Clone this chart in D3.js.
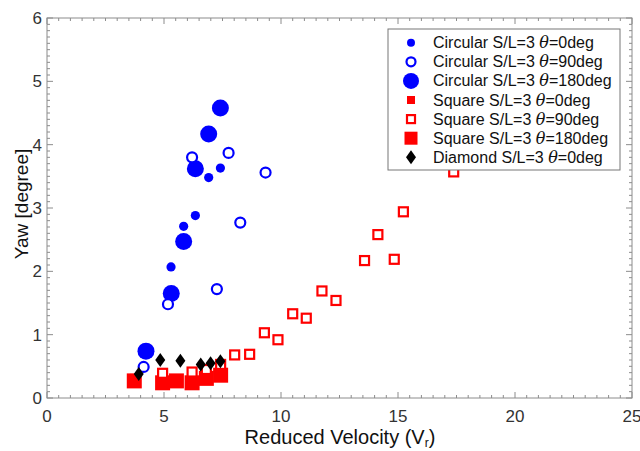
<!DOCTYPE html>
<html>
<head>
<meta charset="utf-8">
<script src="https://cdn.jsdelivr.net/npm/d3@7"></script>
<style>
body { margin: 0; background: #fff; }
svg text { font-family: "Liberation Sans", Arial, sans-serif; }
</style>
</head>
<body>
<div id="chart"></div>
<script>
// data: [reduced velocity, yaw]
var circ0 = [[5.30,2.07],[5.84,2.71],[6.34,2.88],[6.91,3.48],[7.41,3.63]];
var circ90 = [[4.13,0.49],[5.17,1.48],[6.20,3.80],[7.26,1.72],[7.76,3.87],[8.26,2.77],[9.34,3.56]];
var circ180 = [[4.23,0.74],[5.31,1.65],[5.84,2.47],[6.34,3.62],[6.91,4.17],[7.41,4.58]];
var sq0 = [[3.73,0.31],[4.94,0.27],[5.53,0.29],[6.20,0.27],[6.81,0.33],[7.42,0.38]];
var sq90 = [[4.94,0.39],[6.20,0.41],[6.81,0.45],[7.42,0.53],[8.02,0.68],[8.66,0.69],[9.29,1.03],[9.87,0.92],
            [10.50,1.33],[11.08,1.26],[11.75,1.69],[12.35,1.54],[13.57,2.17],[14.14,2.58],[14.84,2.19],[15.23,2.94],[17.38,3.57]];
var sq180 = [[3.73,0.27],[4.94,0.24],[5.53,0.27],[6.20,0.24],[6.81,0.31],[7.42,0.36]];
var diam0 = [[3.92,0.38],[4.84,0.60],[5.70,0.59],[6.57,0.53],[6.99,0.55],[7.41,0.58]];

var xTicks = [0,5,10,15,20,25];
var yTicks = [0,1,2,3,4,5,6];

var width = 640, height = 451;
var margin = {left: 47, right: 8, top: 18, bottom: 53};

var svg = d3.select("#chart").append("svg")
    .attr("width", width)
    .attr("height", height);

var x = d3.scaleLinear().domain([0,25]).range([margin.left, width-margin.right]);
var y = d3.scaleLinear().domain([0,6]).range([height-margin.bottom, margin.top]);

var axisCol = "#8c8c8c";

// frame
svg.append("rect")
    .attr("x", x(0)).attr("y", y(6))
    .attr("width", x(25)-x(0)).attr("height", y(0)-y(6))
    .attr("fill", "none").attr("stroke", axisCol).attr("stroke-width", 1);

// ticks, inward, mirrored on all 4 sides
var xMinor = d3.range(0, 25.01, 0.5);
var yMinor = d3.range(0, 6.001, 0.1);
var tg = svg.append("g").attr("stroke", axisCol).attr("stroke-width", 1);
xMinor.forEach(function(v){
    var major = Math.abs(v/5 - Math.round(v/5)) < 1e-6;
    var len = major ? 6 : 3;
    tg.append("line").attr("x1", x(v)).attr("x2", x(v)).attr("y1", y(0)).attr("y2", y(0)-len);
    tg.append("line").attr("x1", x(v)).attr("x2", x(v)).attr("y1", y(6)).attr("y2", y(6)+len);
});
yMinor.forEach(function(v){
    var major = Math.abs(v - Math.round(v)) < 1e-6;
    var len = major ? 6 : 3;
    tg.append("line").attr("y1", y(v)).attr("y2", y(v)).attr("x1", x(0)).attr("x2", x(0)+len);
    tg.append("line").attr("y1", y(v)).attr("y2", y(v)).attr("x1", x(25)).attr("x2", x(25)-len);
});

// tick labels
svg.selectAll(".xt").data(xTicks).enter().append("text")
    .attr("x", function(d){ return x(d); })
    .attr("y", y(0) + 24)
    .attr("text-anchor", "middle")
    .attr("font-size", 17)
    .attr("fill", "#333")
    .text(function(d){ return d; });
svg.selectAll(".yt").data(yTicks).enter().append("text")
    .attr("x", x(0) - 5)
    .attr("y", function(d){ return y(d) + 6; })
    .attr("text-anchor", "end")
    .attr("font-size", 17)
    .attr("fill", "#333")
    .text(function(d){ return d; });

// axis titles
var xl = svg.append("text")
    .attr("x", 340).attr("y", 444)
    .attr("text-anchor", "middle")
    .attr("font-size", 20)
    .attr("fill", "#111")
    .text("Reduced Velocity (V");
xl.append("tspan").attr("font-size", 12).attr("dy", 3).text("r");
xl.append("tspan").attr("dy", -3).text(")");

svg.append("text")
    .attr("transform", "translate(28," + (y(3) - 4) + ") rotate(-90)")
    .attr("text-anchor", "middle")
    .attr("font-size", 19)
    .attr("fill", "#111")
    .text("Yaw [degree]");

// marker styles
var blue = "#0000ff", red = "#ff0000";
var series = [
    {data: sq0, shape: "square", size: 9, fill: red, stroke: "none", label: "Square S/L=3 ", ang: "0deg"},
    {data: sq180, shape: "square", size: 15, fill: red, stroke: "none", label: "Square S/L=3 ", ang: "180deg"},
    {data: sq90, shape: "square", size: 9, fill: "#fff", stroke: red, label: "Square S/L=3 ", ang: "90deg"},
    {data: circ180, shape: "circle", size: 8.5, fill: blue, stroke: "none", label: "Circular S/L=3 ", ang: "180deg"},
    {data: circ0, shape: "circle", size: 4.6, fill: blue, stroke: "none", label: "Circular S/L=3 ", ang: "0deg"},
    {data: circ90, shape: "circle", size: 5, fill: "#fff", stroke: blue, label: "Circular S/L=3 ", ang: "90deg"},
    {data: diam0, shape: "diamond", size: 5, fill: "#000", stroke: "none", label: "Diamond S/L=3 ", ang: "0deg"}
];

function drawMarker(g, s, cx, cy) {
    if (s.shape == "circle") {
        g.append("circle").attr("cx", cx).attr("cy", cy).attr("r", s.size)
            .attr("fill", s.fill).attr("stroke", s.stroke).attr("stroke-width", 2.2);
    } else if (s.shape == "square") {
        g.append("rect").attr("x", cx - s.size/2).attr("y", cy - s.size/2)
            .attr("width", s.size).attr("height", s.size)
            .attr("fill", s.fill).attr("stroke", s.stroke).attr("stroke-width", 2.2);
    } else {
        var w = s.size, h = s.size*1.4;
        g.append("path")
            .attr("d", "M" + cx + "," + (cy-h) + "L" + (cx+w) + "," + cy + "L" + cx + "," + (cy+h) + "L" + (cx-w) + "," + cy + "Z")
            .attr("fill", s.fill);
    }
}

var pts = svg.append("g");
series.forEach(function(s){
    s.data.forEach(function(d){
        drawMarker(pts, s, x(d[0]), y(d[1]));
    });
});

// legend
var legOrder = [4, 5, 3, 0, 2, 1, 6];
var lg = svg.append("g");
lg.append("rect")
    .attr("x", 388).attr("y", 29)
    .attr("width", 232).attr("height", 141)
    .attr("fill", "#fff").attr("stroke", "#777").attr("stroke-width", 1);
legOrder.forEach(function(k, i){
    var s = series[k];
    var cy = 42.7 + i*19.1;
    var ms = Object.assign({}, s);
    if (s.shape == "square" && s.size > 10) ms.size = 13;
    if (s.shape == "square" && s.fill == red && s.size < 10) ms.size = 8;
    if (s.shape == "square" && s.fill == "#fff") ms.size = 8;
    if (s.shape == "circle" && s.size > 8) ms.size = 8;
    if (s.shape == "circle" && s.fill == blue && s.size < 8) ms.size = 4;
    if (s.shape == "circle" && s.fill == "#fff") ms.size = 4.5;
    drawMarker(lg, ms, 411, cy);
    var t = lg.append("text")
        .attr("x", 433).attr("y", cy + 5.5)
        .attr("font-size", 16)
        .attr("fill", "#111")
        .text(s.label);
    t.append("tspan").attr("font-family", "'DejaVu Serif', serif").attr("font-style", "italic").text("θ");
    t.append("tspan").text("=" + s.ang);
});
</script>
</body>
</html>
